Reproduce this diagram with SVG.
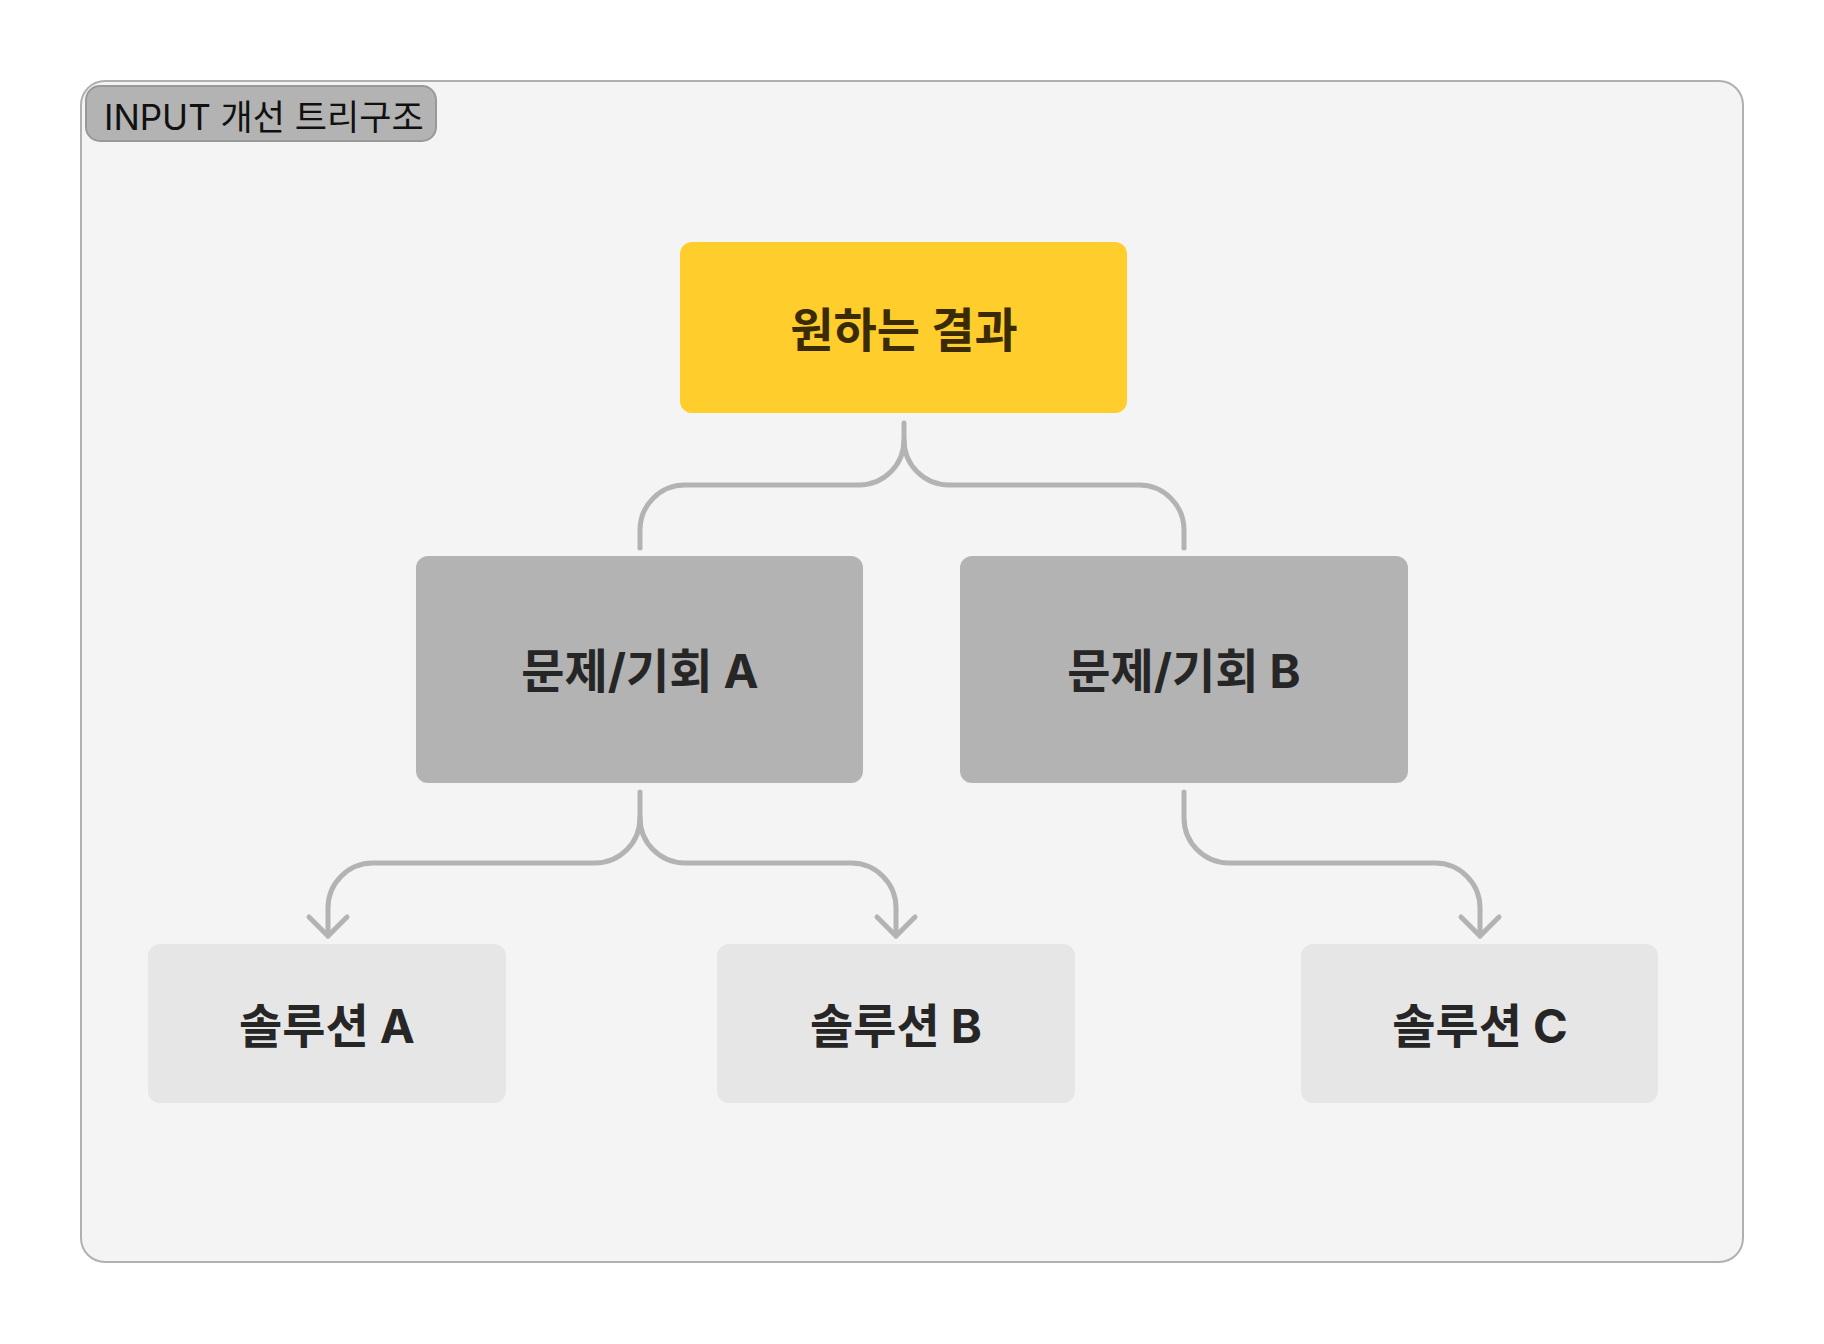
<svg xmlns="http://www.w3.org/2000/svg" width="1824" height="1344" viewBox="0 0 1824 1344">
  <defs>
    <style>
      .frame { fill: #f4f4f4; stroke: #b0b0b0; stroke-width: 2; }
      .badge { fill: #b3b3b3; stroke: #999999; stroke-width: 2; }
      .badge-text { font-family: "Inter", "Noto Sans CJK KR", sans-serif; font-size: 35px; fill: #111111; }
      .n-yellow { fill: #ffcd2c; }
      .n-mid { fill: #b3b3b3; }
      .n-leaf { fill: #e6e6e6; }
      .label { font-family: "Inter", "Noto Sans CJK KR", sans-serif; font-weight: 700; font-size: 47px; text-anchor: middle; fill: #262626; }
      .label-y { fill: #3a2b05; }
      .conn { fill: none; stroke: #b3b3b3; stroke-width: 5; stroke-linecap: round; stroke-linejoin: round; }
    </style>
    <marker id="arrow" viewBox="-24 -24 48 48" markerWidth="48" markerHeight="48" refX="0" refY="0" orient="auto" markerUnits="userSpaceOnUse">
      <path d="M-19,-19 L0,0 L-19,19" fill="none" stroke="#b3b3b3" stroke-width="5" stroke-linecap="round" stroke-linejoin="round"/>
    </marker>
  </defs>

  <rect width="1824" height="1344" fill="#ffffff"/>

  <g id="frame">
    <rect class="frame" x="81" y="81" width="1662" height="1181" rx="24"/>
    <rect class="badge" x="86" y="86" width="350" height="55" rx="14"/>
    <text class="badge-text" x="104" y="130">INPUT 개선 트리구조</text>
  </g>

  <g id="connectors">
    <path class="conn" d="M904,423 V440 A45,45 0 0 1 859,485 H685 A45,45 0 0 0 640,530 V548"/>
    <path class="conn" d="M904,440 A45,45 0 0 0 949,485 H1139 A45,45 0 0 1 1184,530 V548"/>
    <path class="conn" d="M640,792 V818 A45,45 0 0 1 595,863 H373 A45,45 0 0 0 328,908 V936" marker-end="url(#arrow)"/>
    <path class="conn" d="M640,818 A45,45 0 0 0 685,863 H851 A45,45 0 0 1 896,908 V936" marker-end="url(#arrow)"/>
    <path class="conn" d="M1184,792 V818 A45,45 0 0 0 1229,863 H1435 A45,45 0 0 1 1480,908 V936" marker-end="url(#arrow)"/>
  </g>

  <g id="node-goal">
    <rect class="n-yellow" x="680" y="242" width="447" height="171" rx="12"/>
    <text class="label label-y" x="904" y="347">원하는 결과</text>
  </g>

  <g id="node-problem-a">
    <rect class="n-mid" x="416" y="556" width="447" height="227" rx="12"/>
    <text class="label" x="640" y="688">문제/기회 A</text>
  </g>

  <g id="node-problem-b">
    <rect class="n-mid" x="960" y="556" width="448" height="227" rx="12"/>
    <text class="label" x="1184" y="688">문제/기회 B</text>
  </g>

  <g id="node-solution-a">
    <rect class="n-leaf" x="148" y="944" width="358" height="159" rx="12"/>
    <text class="label" x="327" y="1043">솔루션 A</text>
  </g>

  <g id="node-solution-b">
    <rect class="n-leaf" x="717" y="944" width="358" height="159" rx="12"/>
    <text class="label" x="896" y="1043">솔루션 B</text>
  </g>

  <g id="node-solution-c">
    <rect class="n-leaf" x="1301" y="944" width="357" height="159" rx="12"/>
    <text class="label" x="1480" y="1043">솔루션 C</text>
  </g>
</svg>
